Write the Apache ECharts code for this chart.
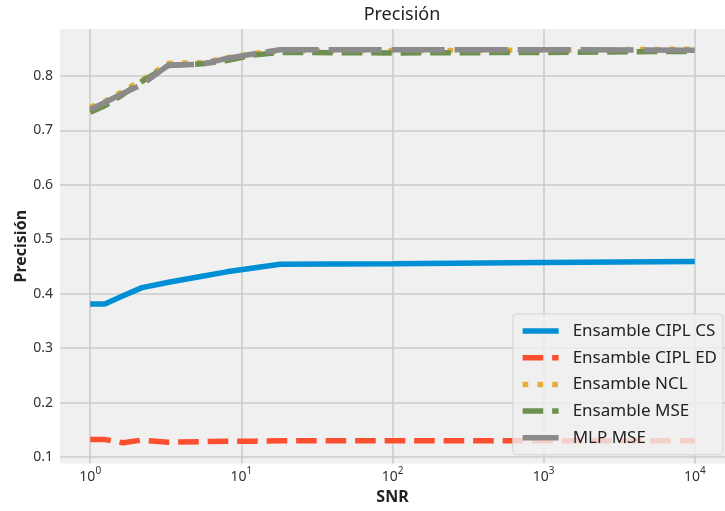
<!DOCTYPE html>
<html>
<head>
<meta charset="utf-8">
<script src="https://cdn.jsdelivr.net/npm/echarts@6/dist/echarts.min.js"></script>
<style>
  html, body { margin: 0; padding: 0; background: #ffffff; }
  #chart { width: 725px; height: 511px; }
</style>
</head>
<body>
<div id="chart"></div>
<script>
// SNR values (log scale)
const snr = [1, 1.25, 1.65, 2.2, 3.3, 5.5, 8, 12, 18, 100, 1000, 10000];

// Precision per model
const ciplCS  = [0.381, 0.381, 0.396, 0.411, 0.421, 0.432, 0.440, 0.447, 0.454, 0.455, 0.457, 0.459];
const ciplED  = [0.132, 0.132, 0.126, 0.131, 0.127, 0.128, 0.129, 0.129, 0.130, 0.130, 0.130, 0.130];
const ncl     = [0.742, 0.753, 0.772, 0.792, 0.823, 0.824, 0.833, 0.841, 0.846, 0.846, 0.847, 0.849];
const ensMSE  = [0.733, 0.745, 0.766, 0.790, 0.819, 0.822, 0.828, 0.838, 0.843, 0.842, 0.843, 0.845];
const mlpMSE  = [0.738, 0.751, 0.768, 0.784, 0.820, 0.821, 0.832, 0.840, 0.848, 0.848, 0.848, 0.847];

const xTicks = [1, 10, 100, 1000, 10000];
const yTicks = [0.1, 0.2, 0.3, 0.4, 0.5, 0.6, 0.7, 0.8];

const FONT = 'Noto Sans';
const pairs = ys => snr.map((x, i) => [x, ys[i]]);

function lineSeries(name, ys, color, dash) {
  return {
    name, type: 'line', data: pairs(ys),
    symbol: 'none', showSymbol: false,
    lineStyle: { color, width: 5.5, type: dash, cap: 'butt' },
    itemStyle: { color },
    emphasis: { disabled: true },
    animation: false
  };
}

const chart = echarts.init(document.getElementById('chart'), null, { renderer: 'canvas' });
chart.setOption({
  backgroundColor: '#ffffff',
  animation: false,
  textStyle: { fontFamily: FONT },
  title: {
    text: 'Precisión',
    left: 397, top: 1, textAlign: 'center',
    textStyle: { fontFamily: FONT, fontSize: 18, fontWeight: 'normal', color: '#222' }
  },
  grid: {
    left: 60, top: 29, width: 674, height: 434.5,
    show: true, backgroundColor: '#f0f0f0', borderWidth: 0,
    containLabel: false
  },
  xAxis: {
    type: 'log', logBase: 10,
    min: Math.pow(10, -0.2), max: Math.pow(10, 4.2),
    name: 'SNR', nameLocation: 'middle', nameGap: 26, nameMoveOverlap: false,
    nameTextStyle: { fontFamily: FONT, fontSize: 16, fontWeight: 'bold', color: '#222' },
    axisLine: { show: false },
    axisTick: { show: false, customValues: xTicks },
    axisLabel: {
      customValues: xTicks,
      margin: 3,
      formatter: v => '{b|10}{s|' + Math.round(Math.log10(v)) + '}',
      rich: {
        b: { fontFamily: FONT, fontSize: 14, color: '#333', verticalAlign: 'bottom', lineHeight: 18 },
        s: { fontFamily: FONT, fontSize: 10, color: '#333', verticalAlign: 'top', lineHeight: 18 }
      }
    },
    splitLine: { show: true, lineStyle: { color: '#cbcbcb', width: 1.5 } },
    minorTick: { show: false }, minorSplitLine: { show: false }
  },
  yAxis: {
    type: 'value', min: 0.088, max: 0.886,
    name: 'Precisión', nameLocation: 'middle', nameGap: 31, nameRotate: 90, nameMoveOverlap: false,
    nameTextStyle: { fontFamily: FONT, fontSize: 16, fontWeight: 'bold', color: '#222' },
    axisLine: { show: false },
    axisTick: { show: false, customValues: yTicks },
    axisLabel: {
      customValues: yTicks, margin: 7,
      fontFamily: FONT, fontSize: 14, color: '#333',
      formatter: v => v.toFixed(1)
    },
    splitLine: { show: true, lineStyle: { color: '#cbcbcb', width: 1.5 } }
  },
  legend: {
    orient: 'vertical', right: 2, top: 314,
    padding: [8, 6, 8, 7],
    itemWidth: 36, itemHeight: 10, itemGap: 8.7,
    backgroundColor: 'rgba(240,240,240,0.8)',
    borderColor: '#d4d4d4', borderWidth: 1, borderRadius: 4,
    itemStyle: { opacity: 0 },
    lineStyle: { width: 5.5, type: 'inherit', cap: 'butt' },
    textStyle: { fontFamily: FONT, fontSize: 17, color: '#222', lineHeight: 18, padding: [0, 0, 0, 9] },
    data: ['Ensamble CIPL CS', 'Ensamble CIPL ED', 'Ensamble NCL', 'Ensamble MSE', 'MLP MSE']
  },
  series: [
    lineSeries('Ensamble CIPL CS', ciplCS, '#008fd5', 'solid'),
    lineSeries('Ensamble CIPL ED', ciplED, '#fc4f30', [20.6, 8.9]),
    lineSeries('Ensamble NCL', ncl, '#e5ae38', [5.6, 9.2]),
    lineSeries('Ensamble MSE', ensMSE, '#6d904f', [20.6, 8.9]),
    lineSeries('MLP MSE', mlpMSE, '#8b8b8b', [53, 10])
  ]
});
</script>
</body>
</html>
